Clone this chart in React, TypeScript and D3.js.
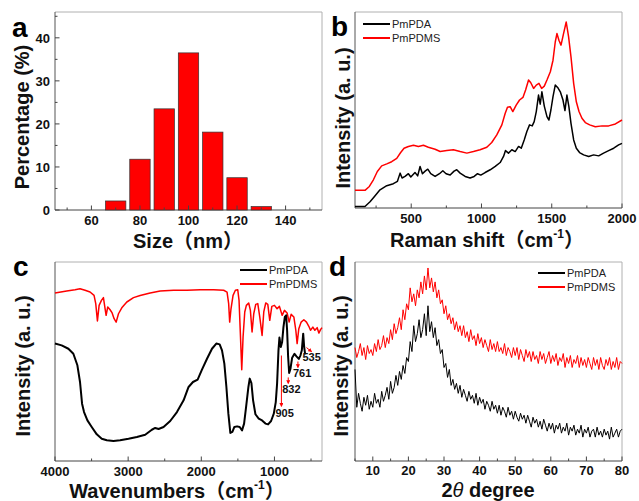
import React from 'react';
import * as d3 from 'd3';

const W = 639;
const H = 501;
const FONT = '"Liberation Sans", Arial, "Noto Sans CJK SC", sans-serif';
const RED = '#ff0000';

// (a) particle size distribution
const sizeBins = [70, 80, 90, 100, 110, 120, 130];
const sizePercent = [2.1, 11.8, 23.5, 36.5, 18.1, 7.5, 0.8];
const sizeTicks = [60, 80, 100, 120, 140];
const percentTicks = [0, 10, 20, 30, 40];

// (b) Raman, [shift cm-1, intensity a.u.]
const ramanPmPDA: [number, number][] = [
  [100, 0.8], [171, 0.8], [207, 3.2], [243, 6.3], [278, 9.3], [326, 11.4], [373, 12.4], [402, 13.6],
  [421, 17.8], [435, 15.3], [456, 16.1], [480, 17.5], [497, 15.8], [527, 18.1], [546, 16.4], [563, 21.2],
  [580, 17.5], [599, 18.8], [618, 19.8], [639, 17.5], [670, 16.1], [701, 17.5], [725, 19], [748, 17.5],
  [777, 16.8], [805, 18.8], [824, 19.5], [848, 17.8], [884, 16.1], [919, 15.3], [948, 16.1], [972, 17.5],
  [995, 16.8], [1026, 18.1], [1062, 19.5], [1098, 21.2], [1133, 23.2], [1157, 26.3], [1171, 29.3],
  [1192, 28], [1216, 29.7], [1240, 28.8], [1264, 31.4], [1283, 30.5], [1304, 34.7], [1323, 39],
  [1342, 42.4], [1361, 41.9], [1375, 44.1], [1390, 49.2], [1406, 57.6], [1418, 53], [1430, 59.3],
  [1447, 52], [1466, 46.6], [1480, 44.9], [1494, 50], [1509, 56.8], [1525, 62.7], [1542, 61.5],
  [1561, 59.3], [1580, 55.1], [1594, 49.7], [1608, 57.6], [1622, 51.7], [1637, 43.2], [1656, 34.7],
  [1675, 30.5], [1698, 28.3], [1727, 27.1], [1763, 26.3], [1798, 27.1], [1834, 26.6], [1869, 28],
  [1905, 29.3], [1941, 30.5], [1976, 32.2], [2000, 33],
];
const ramanPmPDMS: [number, number][] = [
  [100, 9], [171, 9], [202, 11], [231, 14.4], [259, 18.6], [290, 21.5], [326, 22.5], [361, 23.6],
  [397, 25.3], [425, 28.3], [449, 30.5], [480, 31.4], [516, 32], [551, 31.4], [587, 32], [622, 31],
  [670, 30], [706, 28.8], [753, 29.3], [800, 29.7], [848, 28.8], [896, 28], [943, 28.8], [990, 29.7],
  [1038, 31], [1073, 33.4], [1109, 37.3], [1145, 42.4], [1169, 48.3], [1185, 51.4], [1204, 51.7],
  [1223, 49.2], [1247, 52.5], [1271, 55.1], [1295, 56.4], [1314, 60.2], [1335, 65.3], [1351, 63.9],
  [1371, 61], [1390, 62.7], [1409, 63.6], [1428, 61], [1447, 62.2], [1466, 65.3], [1490, 69.5],
  [1509, 75.4], [1525, 84.7], [1537, 89], [1551, 85.6], [1566, 83.1], [1584, 89], [1603, 94.9],
  [1620, 87.3], [1637, 77.1], [1656, 63.6], [1675, 54.2], [1694, 49.2], [1715, 45.8], [1739, 43.6],
  [1770, 42.4], [1810, 41.5], [1858, 41.9], [1905, 41.9], [1953, 42.9], [2000, 44.9],
];
const ramanTicks = [500, 1000, 1500, 2000];

// (c) FTIR, [wavenumber cm-1, intensity a.u.]
const ftirPmPDA: [number, number][] = [
  [4000, 59], [3909, 58.1], [3817, 56.4], [3749, 53.9], [3694, 48.1], [3658, 39.7], [3630, 28.8],
  [3603, 24.6], [3557, 20.4], [3498, 17.1], [3429, 13.4], [3361, 11.2], [3292, 10.4], [3201, 10.1],
  [3110, 10.4], [2995, 11.2], [2881, 12.1], [2767, 13.2], [2676, 15.7], [2630, 16.6], [2584, 16.1],
  [2516, 17.1], [2425, 20.1], [2333, 24.6], [2242, 30.5], [2174, 37.2], [2114, 39.7], [2050, 40.9],
  [1991, 45.9], [1922, 51.4], [1854, 56.4], [1795, 59], [1749, 58.6], [1717, 55.6], [1685, 48.9],
  [1657, 37.2], [1630, 23.8], [1603, 14.1], [1575, 14.6], [1548, 17.1], [1511, 17.4], [1475, 17.1],
  [1443, 15.4], [1415, 18.8], [1388, 27.1], [1356, 37.2], [1338, 41.4], [1315, 39.2], [1292, 30.5],
  [1260, 23.5], [1215, 21.3], [1169, 20.4], [1123, 18.8], [1087, 18.4], [1046, 20.1], [1009, 23.8],
  [982, 29.6], [964, 38.9], [945, 55.6], [932, 62], [913, 57.3], [895, 59.8], [877, 67.3], [858, 72.4],
  [840, 73.2], [827, 65.7], [813, 52.3], [799, 44.2], [781, 46.4], [758, 51.9], [726, 53.9], [699, 52.6],
  [667, 51.3], [644, 53.1], [626, 55.6], [607, 64], [594, 57.3], [580, 53.6],
];
const ftirPmPDMS: [number, number][] = [
  [4000, 84.4], [3840, 85.4], [3726, 86.1], [3658, 86.6], [3589, 85.8], [3521, 84.9], [3466, 83.2],
  [3443, 79.1], [3420, 70.4], [3397, 78.2], [3365, 80.7], [3338, 82.1], [3315, 76.5], [3301, 73.2],
  [3279, 77.4], [3247, 76], [3219, 74.4], [3192, 71.5], [3164, 69.8], [3132, 74], [3087, 77], [3018, 79.9],
  [2927, 82.1], [2836, 83.2], [2699, 84.4], [2562, 85.4], [2379, 85.8], [2196, 85.8], [2014, 86.1],
  [1831, 86.1], [1694, 85.8], [1648, 84.9], [1626, 79.1], [1612, 69.8], [1594, 76.5], [1566, 83.2],
  [1534, 85.8], [1502, 86.1], [1484, 80.7], [1466, 64], [1447, 45.9], [1429, 62.3], [1406, 74.9],
  [1384, 78.2], [1352, 79.4], [1329, 75.7], [1306, 64.8], [1283, 74], [1256, 78.7], [1228, 79.1],
  [1201, 72.4], [1169, 63.1], [1146, 74.9], [1119, 79.4], [1091, 78.7], [1064, 70.7], [1036, 77.7],
  [1000, 78.2], [964, 76.5], [932, 77.7], [895, 73.2], [863, 75.7], [827, 74.4], [799, 69.8], [772, 73.7],
  [735, 72.4], [708, 65.7], [690, 59], [667, 66.5], [635, 69.8], [598, 71], [562, 69.8], [530, 67.7],
  [507, 65.7], [475, 67.3], [448, 65.7], [416, 67], [393, 64.3], [370, 66], [350, 67],
];
const ftirTicks = [4000, 3000, 2000, 1000];
const ftirPeaks = ['905', '832', '761', '535'];

// (d) XRD, read every 0.5 degree from 5 to 80
const xrdStart = 5;
const xrdStep = 0.5;
const xrdPmPDA = [
  46, 27, 34, 29, 25, 32, 28, 33, 26, 30,
  27, 34, 29, 31, 27, 35, 30, 33, 37, 31,
  40, 34, 37, 43, 38, 45, 41, 48, 44, 52,
  50, 60, 55, 68, 60, 64, 71, 62, 66, 74,
  63, 78, 65, 70, 62, 67, 58, 61, 54, 56,
  47, 49, 42, 46, 38, 41, 36, 39, 34, 38,
  32, 36, 33, 30, 35, 31, 33, 29, 34, 28,
  32, 29, 31, 26, 30, 28, 25, 30, 26, 28,
  24, 28, 23, 27, 25, 22, 27, 23, 25, 21,
  25, 22, 20, 24, 21, 23, 19, 23, 20, 17,
  22, 19, 21, 17, 20, 16, 21, 18, 15, 19,
  16, 19, 14, 18, 16, 19, 14, 17, 15, 19,
  13, 17, 15, 18, 13, 16, 14, 18, 12, 16,
  14, 17, 12, 15, 16, 12, 17, 13, 15, 12,
  16, 13, 15, 11, 17, 12, 14, 16, 12, 15,
  16,
];
const xrdPmPDMS = [
  57, 52, 55, 59, 53, 57, 51, 58, 54, 56,
  53, 59, 55, 61, 56, 58, 63, 57, 62, 59,
  66, 61, 69, 64, 67, 72, 66, 76, 71, 79,
  76, 87, 80, 84, 78, 86, 82, 90, 84, 93,
  86, 97, 87, 92, 85, 90, 82, 86, 79, 81,
  74, 78, 71, 74, 69, 72, 66, 70, 65, 68,
  63, 68, 62, 65, 60, 66, 61, 63, 58, 64,
  59, 62, 57, 61, 58, 55, 61, 56, 59, 55,
  60, 55, 57, 54, 59, 53, 57, 55, 52, 57,
  53, 57, 51, 56, 53, 50, 56, 52, 55, 50,
  55, 51, 53, 49, 55, 51, 54, 49, 52, 55,
  49, 53, 50, 54, 48, 52, 50, 54, 47, 52,
  49, 53, 47, 51, 49, 53, 47, 52, 48, 51,
  47, 52, 49, 46, 52, 48, 51, 46, 52, 48,
  46, 51, 48, 52, 46, 50, 47, 52, 46, 50,
  49,
];
const xrdTicks = [10, 20, 30, 40, 50, 60, 70, 80];
const seriesNames = ['PmPDA', 'PmPDMS'];

type Box = { x0: number; x1: number; y0: number; y1: number };
const boxA: Box = { x0: 55, x1: 322, y0: 12, y1: 210 };
const boxB: Box = { x0: 355, x1: 622, y0: 12, y1: 208 };
const boxC: Box = { x0: 55, x1: 322, y0: 262, y1: 461 };
const boxD: Box = { x0: 355, x1: 622, y0: 262, y1: 461 };

const xA = d3.scaleLinear().domain([45, 155]).range([boxA.x0, boxA.x1]);
const yA = d3.scaleLinear().domain([0, 46]).range([boxA.y1, boxA.y0]);
const xB = d3.scaleLinear().domain([100, 2000]).range([boxB.x0, boxB.x1]);
const yB = d3.scaleLinear().domain([0, 100]).range([boxB.y1, boxB.y0]);
const xC = d3.scaleLinear().domain([4000, 350]).range([boxC.x0, boxC.x1]);
const yC = d3.scaleLinear().domain([0, 100]).range([boxC.y1, boxC.y0]);
const xD = d3.scaleLinear().domain([5, 80]).range([boxD.x0, boxD.x1]);
const yD = d3.scaleLinear().domain([0, 100]).range([boxD.y1, boxD.y0]);

const Frame = ({ b }: { b: Box }) => (
  <g>
    <line x1={b.x0} x2={b.x1} y1={b.y0} y2={b.y0} stroke="#b0b0b0" />
    <line x1={b.x1} x2={b.x1} y1={b.y0} y2={b.y1} stroke="#b0b0b0" />
    <line x1={b.x0} x2={b.x0} y1={b.y0} y2={b.y1} stroke="#555" />
    <line x1={b.x0} x2={b.x1} y1={b.y1} y2={b.y1} stroke="#444" />
  </g>
);

const XTicks = ({ scale, b, major, minor, labelY }: any) => (
  <g>
    {minor.map((v: number) => (
      <line key={'m' + v} x1={scale(v)} x2={scale(v)} y1={b.y1} y2={b.y1 - 2.5} stroke="#444" />
    ))}
    {major.map((v: number) => (
      <g key={v}>
        <line x1={scale(v)} x2={scale(v)} y1={b.y1} y2={b.y1 - 4.5} stroke="#444" />
        <text x={scale(v)} y={labelY} textAnchor="middle" fontSize={13} fontWeight="bold" fill="#111">{v}</text>
      </g>
    ))}
  </g>
);

const Legend = ({ x, y }: { x: number; y: number }) => (
  <g fontSize={11} fill="#222">
    {seriesNames.map((n, i) => (
      <g key={n} transform={`translate(${x},${y + i * 14})`}>
        <line x1={0} x2={27} y1={0} y2={0} stroke={i === 0 ? '#000' : RED} strokeWidth={2} />
        <text x={29} y={4}>{n}</text>
      </g>
    ))}
  </g>
);

const YTitle = ({ x, y, text }: { x: number; y: number; text: string }) => (
  <text transform={`translate(${x},${y}) rotate(-90)`} textAnchor="middle" fontSize={20} fontWeight="bold" fill="#111">{text}</text>
);

const Letter = ({ x, y, t }: { x: number; y: number; t: string }) => (
  <text x={x} y={y} fontSize={28} fontWeight="bold" fill="#000">{t}</text>
);

export default function App() {
  const lineB = d3.line<[number, number]>().x((d) => xB(d[0])).y((d) => yB(d[1]));
  const lineC = d3.line<[number, number]>().x((d) => xC(d[0])).y((d) => yC(d[1]));
  const lineD = d3.line<number>().x((_, i) => xD(xrdStart + i * xrdStep)).y((d) => yD(d));
  const barW = xA(8.4) - xA(0);

  // arrow layout for the FTIR peak labels
  const peakLayout = [
    { dx: 0, ya: 53, yb: 27.5, lx: -6, ly: 417 },
    { dx: 1.5, ya: 42, yb: 39, lx: -6, ly: 393 },
    { dx: 6, ya: 50, yb: 47, lx: -5, ly: 377 },
    { dx: -2, ya: 57, yb: 55, lx: -4, ly: 361 },
  ];

  return (
    <div style={{ position: 'absolute', left: 0, top: 0 }}>
      <svg width={W} height={H} fontFamily={FONT} style={{ display: 'block', background: '#fff' }}>
        <defs>
          <marker id="ah" viewBox="0 0 10 10" refX="8" refY="5" markerWidth="4" markerHeight="4" orient="auto">
            <path d="M0,0 L10,5 L0,10 z" fill={RED} />
          </marker>
        </defs>

        {/* panel a */}
        <Frame b={boxA} />
        {sizeBins.map((v, i) => (
          <rect key={v} x={xA(v) - barW / 2} y={yA(sizePercent[i])} width={barW}
            height={yA(0) - yA(sizePercent[i])} fill={RED} stroke="#333" strokeWidth={0.7} />
        ))}
        <XTicks scale={xA} b={boxA} major={sizeTicks} minor={[50, 70, 90, 110, 130, 150]} labelY={225} />
        {[5, 15, 25, 35, 45].map((v) => (
          <line key={v} x1={boxA.x0} x2={boxA.x0 + 2.5} y1={yA(v)} y2={yA(v)} stroke="#444" />
        ))}
        {percentTicks.map((v) => (
          <g key={v}>
            <line x1={boxA.x0} x2={boxA.x0 + 4.5} y1={yA(v)} y2={yA(v)} stroke="#444" />
            <text x={50} y={yA(v) + 5} textAnchor="end" fontSize={13} fontWeight="bold" fill="#111">{v}</text>
          </g>
        ))}
        <YTitle x={29} y={117} text="Percentage (%)" />
        <text x={188} y={248} textAnchor="middle" fontSize={20} fontWeight="bold" fill="#111">Size（nm）</text>
        <Letter x={12} y={37} t="a" />

        {/* panel b */}
        <Frame b={boxB} />
        <path d={lineB(ramanPmPDMS) || ''} fill="none" stroke={RED} strokeWidth={1.5} strokeLinejoin="round" />
        <path d={lineB(ramanPmPDA) || ''} fill="none" stroke="#000" strokeWidth={1.5} strokeLinejoin="round" />
        <XTicks scale={xB} b={boxB} major={ramanTicks} minor={[250, 750, 1250, 1750]} labelY={223} />
        <YTitle x={350} y={118} text="Intensity (a. u.)" />
        <text x={487} y={247} textAnchor="middle" fontSize={20} fontWeight="bold" fill="#111">
          Raman shift（cm<tspan fontSize={12} dy={-9}>-1</tspan><tspan dy={9}>）</tspan>
        </text>
        <Letter x={331} y={36} t="b" />
        <Legend x={363} y={24} />

        {/* panel c */}
        <Frame b={boxC} />
        <path d={lineC(ftirPmPDMS) || ''} fill="none" stroke={RED} strokeWidth={1.5} strokeLinejoin="round" />
        <path d={lineC(ftirPmPDA) || ''} fill="none" stroke="#000" strokeWidth={2} strokeLinejoin="round" />
        <XTicks scale={xC} b={boxC} major={ftirTicks} minor={[3500, 2500, 1500, 500]} labelY={476} />
        {ftirPeaks.map((p, i) => {
          const L = peakLayout[i];
          const x = xC(+p) + L.dx;
          return (
            <g key={p}>
              <line x1={x} x2={i === 3 ? x + 5 : x} y1={yC(L.ya)} y2={yC(L.yb)} stroke={RED} strokeWidth={1} markerEnd="url(#ah)" />
              <text x={x + L.lx} y={L.ly} fontSize={11} fontWeight="bold" fill="#111">{p}</text>
            </g>
          );
        })}
        <YTitle x={30} y={366} text="Intensity (a. u.)" />
        <text x={177} y={498} textAnchor="middle" fontSize={20} fontWeight="bold" fill="#111">
          Wavenumbers（cm<tspan fontSize={12} dy={-9}>-1</tspan><tspan dy={9}>）</tspan>
        </text>
        <Letter x={13} y={276} t="c" />
        <Legend x={240} y={270} />

        {/* panel d */}
        <Frame b={boxD} />
        <path d={lineD(xrdPmPDMS) || ''} fill="none" stroke={RED} strokeWidth={1} strokeLinejoin="round" />
        <path d={lineD(xrdPmPDA) || ''} fill="none" stroke="#000" strokeWidth={1} strokeLinejoin="round" />
        <XTicks scale={xD} b={boxD} major={xrdTicks} minor={[5, 15, 25, 35, 45, 55, 65, 75]} labelY={475} />
        <YTitle x={348} y={366} text="Intensity (a. u.)" />
        <text x={488} y={497} textAnchor="middle" fontSize={20} fontWeight="bold" fill="#111">
          2<tspan fontStyle="italic" fontWeight="normal">θ</tspan> degree
        </text>
        <Letter x={329} y={276} t="d" />
        <Legend x={538} y={273} />
      </svg>
    </div>
  );
}
